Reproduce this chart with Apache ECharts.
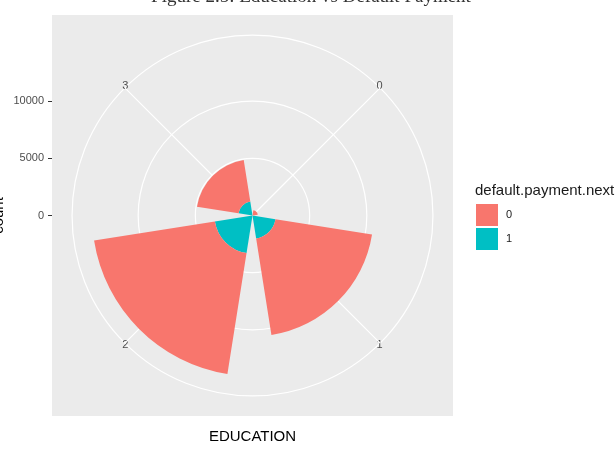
<!DOCTYPE html>
<html>
<head>
<meta charset="utf-8">
<script src="https://cdn.jsdelivr.net/npm/echarts@6/dist/echarts.min.js"></script>
<style>
  html, body { margin: 0; padding: 0; background: #fff; }
  #chart { width: 616px; height: 451px; }
</style>
</head>
<body>
<div id="chart"></div>
<script>
// EDUCATION levels and counts per default.payment.next value
const categories = ['0', '1', '2', '3'];
const paid = [435, 8549, 10700, 3680];      // default.payment.next = 0
const defaulted = [33, 2036, 3330, 1237];   // default.payment.next = 1
const countTicks = [0, 5000, 10000];

const PINK = '#F8766D';
const TEAL = '#00BFC4';
const FONT = 'Liberation Sans, Arial, sans-serif';

// ggplot coord_polar: data max sits at 0.4 of the panel, outer circle at 0.45
const maxTotal = Math.max(...paid.map((v, i) => v + defaulted[i]));
const radiusMax = maxTotal * 0.45 / 0.4;
const panelHalf = maxTotal * 0.5 / 0.4;

const panel = { left: 52, top: 15, size: 401 };
const cx = panel.left + panel.size / 2;
const cy = panel.top + panel.size / 2;
const polarR = panel.size * 0.45;

const chart = echarts.init(document.getElementById('chart'));

chart.setOption({
  animation: false,
  backgroundColor: '#fff',
  title: [
    {
      text: 'Figure 2.5: Education vs Default Payment',
      left: 311,
      top: -12,
      padding: 0,
      textAlign: 'center',
      textStyle: { fontFamily: 'Liberation Serif, serif', fontSize: 19, fontWeight: 'normal', color: '#333' }
    },
    {
      text: 'default.payment.next',
      left: 475,
      top: 183,
      padding: 0,
      textStyle: { fontFamily: FONT, fontSize: 15, fontWeight: 'normal', color: '#1a1a1a' }
    }
  ],
  legend: {
    data: ['0', '1'],
    orient: 'vertical',
    left: 476,
    top: 204,
    padding: 0,
    icon: 'rect',
    itemWidth: 22,
    itemHeight: 22,
    itemGap: 2,
    textStyle: { fontFamily: FONT, fontSize: 11, color: '#1a1a1a', padding: [0, 0, 0, 3] }
  },
  grid: {
    left: panel.left,
    top: panel.top,
    width: panel.size,
    height: panel.size,
    containLabel: false,
    outerBoundsMode: 'none',
    show: true,
    backgroundColor: '#EBEBEB',
    borderWidth: 0,
    z: -1
  },
  xAxis: {
    type: 'value',
    min: 0,
    max: 1,
    axisLine: { show: false },
    axisTick: { show: false },
    axisLabel: { show: false },
    splitLine: { show: false },
    name: 'EDUCATION',
    nameLocation: 'middle',
    nameGap: 13,
    nameTextStyle: { fontFamily: FONT, fontSize: 15, color: '#000' }
  },
  yAxis: {
    type: 'value',
    min: -panelHalf,
    max: panelHalf,
    axisLine: { show: false },
    splitLine: { show: false },
    axisTick: { show: true, length: 4, customValues: countTicks, lineStyle: { color: '#333' } },
    axisLabel: {
      customValues: countTicks,
      margin: 8,
      formatter: v => String(v),
      fontFamily: FONT, fontSize: 11, color: '#4D4D4D'
    },
    name: 'count',
    nameLocation: 'middle',
    nameRotate: 90,
    nameGap: 46,
    nameMoveOverlap: false,
    nameTextStyle: { fontFamily: FONT, fontSize: 15, color: '#000' }
  },
  polar: [
    { center: [cx, cy], radius: polarR },
    { center: [cx, cy], radius: polarR }
  ],
  angleAxis: [
    {
      polarIndex: 0,
      type: 'category',
      data: categories,
      boundaryGap: false,
      startAngle: 45,
      clockwise: true,
      z: 1,
      axisLine: { show: false },
      axisTick: { show: false },
      axisLabel: { margin: -5, fontFamily: FONT, fontSize: 11, color: '#4D4D4D' },
      splitLine: { show: true, lineStyle: { color: '#fff', width: 1.2 } }
    },
    {
      polarIndex: 1,
      type: 'value',
      min: 0,
      max: 360,
      z: 0,
      axisLine: { show: true, lineStyle: { color: '#fff', width: 1.2 } },
      axisTick: { show: false },
      axisLabel: { show: false },
      splitLine: { show: false }
    }
  ],
  radiusAxis: [
    {
      polarIndex: 0,
      type: 'value',
      min: 0,
      max: radiusMax,
      axisLine: { show: false },
      axisTick: { show: false },
      axisLabel: { show: false },
      splitLine: { show: false }
    },
    {
      polarIndex: 1,
      type: 'value',
      min: 0,
      max: radiusMax,
      z: 0,
      axisLine: { show: false },
      axisTick: { show: false, customValues: countTicks },
      axisLabel: { show: false },
      splitLine: { show: true, lineStyle: { color: '#fff', width: 1.2 } }
    }
  ],
  series: [
    {
      name: '1',
      type: 'bar',
      coordinateSystem: 'polar',
      polarIndex: 0,
      stack: 'count',
      barWidth: '80%',
      itemStyle: { color: TEAL },
      data: defaulted
    },
    {
      name: '0',
      type: 'bar',
      coordinateSystem: 'polar',
      polarIndex: 0,
      stack: 'count',
      barWidth: '80%',
      itemStyle: { color: PINK },
      data: paid
    }
  ]
});
</script>
</body>
</html>
